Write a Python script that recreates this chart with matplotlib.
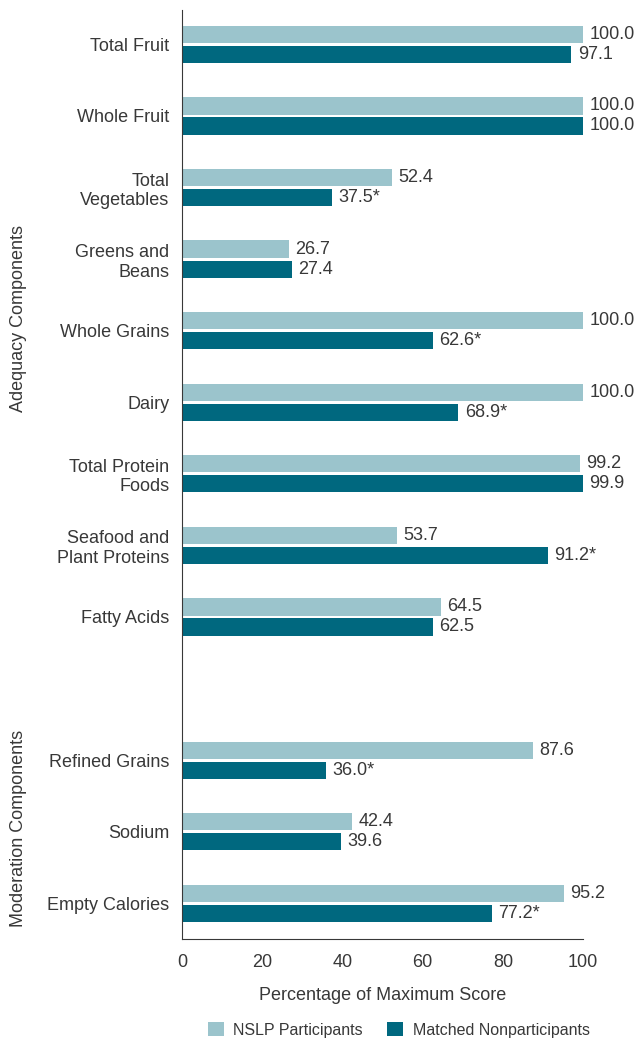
import matplotlib
matplotlib.use("Agg")
import matplotlib.pyplot as plt
import numpy as np

plt.rcParams['font.family'] = ['Liberation Sans', 'DejaVu Sans']

categories = ["Total Fruit", "Whole Fruit", "Total\nVegetables", "Greens and\nBeans",
              "Whole Grains", "Dairy", "Total Protein\nFoods", "Seafood and\nPlant Proteins",
              "Fatty Acids", "Refined Grains", "Sodium", "Empty Calories"]
nslp = [100.0, 100.0, 52.4, 26.7, 100.0, 100.0, 99.2, 53.7, 64.5, 87.6, 42.4, 95.2]
matched = [97.1, 100.0, 37.5, 27.4, 62.6, 68.9, 99.9, 91.2, 62.5, 36.0, 39.6, 77.2]
signif = [False, False, True, False, True, True, False, True, False, True, False, True]

light = "#9bc4cc"
dark = "#00687f"
txt = "#383838"

# slot positions, with a blank slot between the two groups
pos = np.array([0, 1, 2, 3, 4, 5, 6, 7, 8, 10, 11, 12], dtype=float)
bh = 0.24
off = 0.14

fig = plt.figure(figsize=(6.39, 10.42), dpi=100)
ax = fig.add_axes([0.2848, 0.0988, 0.9124 - 0.2848, 0.9904 - 0.0988])

ax.barh(pos - off, nslp, height=bh, color=light, label="NSLP Participants")
ax.barh(pos + off, matched, height=bh, color=dark, label="Matched Nonparticipants")

for p, a, b, s in zip(pos, nslp, matched, signif):
    ax.text(a + 1.6, p - off, f"{a:.1f}", va="center", ha="left", fontsize=13, color=txt)
    ax.text(b + 1.6, p + off, f"{b:.1f}" + ("*" if s else ""), va="center", ha="left",
            fontsize=13, color=txt)

ax.set_xlim(0, 100)
ax.set_ylim(12.5, -0.48)
ax.set_yticks(pos)
ax.set_yticklabels(categories, fontsize=13, color=txt, linespacing=1.2)
ax.set_xticks([0, 20, 40, 60, 80, 100])
ax.tick_params(axis="both", length=0, labelsize=13, labelcolor=txt)
ax.tick_params(axis="x", pad=11)
ax.tick_params(axis="y", pad=9)
for lbl in ax.get_yticklabels():
    lbl.set_multialignment("right")

ax.spines["top"].set_visible(False)
ax.spines["right"].set_visible(False)
ax.spines["left"].set_color(txt)
ax.spines["bottom"].set_color(txt)

ax.set_xlabel("Percentage of Maximum Score", fontsize=13, color=txt, labelpad=11)

fig.text(0.029, 1 - 318 / 1042, "Adequacy Components", rotation=90, ha="center",
         va="center", fontsize=13, color=txt)
fig.text(0.029, 1 - 828 / 1042, "Moderation Components", rotation=90, ha="center",
         va="center", fontsize=13, color=txt)

fig.legend(loc="center", bbox_to_anchor=(0.624, 1 - 1030 / 1042), ncol=2, frameon=False,
           fontsize=11.5, handlelength=1.0, handleheight=1.0, columnspacing=1.5,
           handletextpad=0.6, labelcolor=txt)

fig.savefig("out.png", dpi=100)
